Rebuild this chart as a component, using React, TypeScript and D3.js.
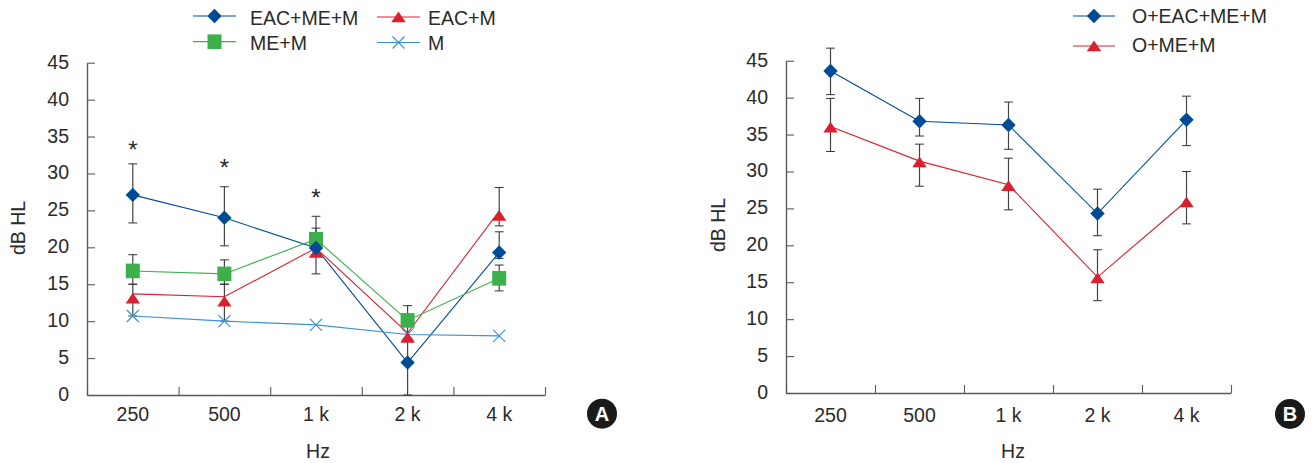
import React, { useEffect, useRef } from "react";
import * as d3 from "d3";

const categories = ["250", "500", "1 k", "2 k", "4 k"];
const yTicks = [0, 5, 10, 15, 20, 25, 30, 35, 40, 45];

// Panel A
const aFullMean = [27.1, 24.0, 19.9, 4.4, 19.3];
const aFullHi = [31.3, 28.2, 24.2, 4.4, 22.1];
const aFullLo = [23.3, 20.2, 19.9, 0, 18.5];
const aEacMean = [13.7, 13.3, 19.9, 8.4, 24.9];
const aEacHi = [15.0, 15.0, 19.0, 7.5, 28.1];
const aEacLo = [10.7, 10.0, 16.4, 4.5, 22.9];
const aMeMean = [16.8, 16.4, 21.1, 10.1, 15.8];
const aMeHi = [19.0, 18.3, 22.6, 12.1, 17.6];
const aMeLo = [15.0, 15.0, 20.0, 7.5, 14.1];
const aMMean = [10.7, 10.0, 9.5, 8.2, 8.0];

// Panel B
const bFullMean = [43.6, 36.8, 36.3, 24.3, 37.0];
const bFullHi = [46.7, 39.9, 39.4, 27.6, 40.2];
const bFullLo = [40.4, 34.8, 33.0, 21.3, 33.5];
const bMeMean = [36.1, 31.4, 28.2, 15.7, 26.0];
const bMeHi = [39.9, 33.7, 31.8, 19.4, 30.0];
const bMeLo = [32.7, 28.0, 24.8, 12.5, 22.9];

const starValues = [33.8, 31.4, 27.3];

const BLUE = "#004a96";
const RED = "#d9202e";
const GREEN = "#3db04b";
const SKY = "#3a92d4";
const INK = "#2b2a29";
const FONT = "'Liberation Sans', Arial, sans-serif";
const FS = 19.5;

type Kind = "diamond" | "triangle" | "square" | "cross";
type Series = { name: string; color: string; kind: Kind; mean: number[]; hi?: number[]; lo?: number[] };

function drawMarker(g: any, kind: Kind, color: string, x: number, y: number, triDy: number) {
  if (kind === "diamond") {
    g.append("path").attr("d", "M0,-7.2L7.2,0L0,7.2L-7.2,0Z").attr("fill", color).attr("transform", `translate(${x},${y})`);
  } else if (kind === "square") {
    g.append("rect").attr("x", x - 7).attr("y", y - 7.3).attr("width", 14).attr("height", 14.6).attr("fill", color);
  } else if (kind === "triangle") {
    g.append("path").attr("d", "M0,-5.6L7.2,5.2L-7.2,5.2Z").attr("fill", color).attr("transform", `translate(${x},${y + triDy})`);
  } else {
    g.append("path").attr("d", "M-6,-6L6,6M-6,6L6,-6").attr("stroke", color).attr("stroke-width", 1.2).attr("fill", "none").attr("transform", `translate(${x},${y})`);
  }
}

function drawPanel(svg: any, opt: {
  left: number; right: number; top: number; bottom: number; triDy: number;
  series: Series[]; yLabelX: number; yLabelY: number; hzX: number; hzY: number; catY: number;
  badge: string; badgeX: number; badgeY: number;
}) {
  const y = d3.scaleLinear().domain([0, 45]).range([opt.bottom, opt.top]);
  const band = d3.scaleBand<string>().domain(categories).range([opt.left, opt.right]);
  const edge = d3.scaleLinear().domain([0, categories.length]).range([opt.left, opt.right]);
  const cx = (i: number) => (band(categories[i]) as number) + band.bandwidth() / 2;

  const axisStyle = (g: any) => {
    g.selectAll("path.domain").attr("stroke", "#5a5a5a").attr("stroke-width", 1.4);
    g.selectAll("line").attr("stroke", "#5a5a5a").attr("stroke-width", 1.1);
    g.selectAll("text").attr("font-family", FONT).attr("font-size", FS).attr("fill", INK);
  };

  const ya = svg.append("g").attr("transform", `translate(${opt.left},0)`)
    .call(d3.axisLeft(y).tickValues(yTicks).tickSize(-8).tickSizeOuter(0).tickPadding(18));
  axisStyle(ya);
  ya.selectAll("text").attr("dy", "0.28em");

  const xa = svg.append("g").attr("transform", `translate(0,${opt.bottom})`)
    .call(d3.axisBottom(edge).tickValues(d3.range(categories.length + 1)).tickSize(-8).tickSizeOuter(0).tickFormat(() => ""));
  axisStyle(xa);

  const xl = svg.append("g").attr("transform", `translate(0,${opt.catY})`)
    .call(d3.axisBottom(band).tickSize(0).tickPadding(0));
  xl.select("path.domain").remove();
  axisStyle(xl);
  xl.selectAll("text").attr("dy", 0).attr("y", 0);

  // error bars
  const eb = svg.append("g");
  opt.series.forEach((s) => {
    if (!s.hi || !s.lo) return;
    s.mean.forEach((_, i) => {
      const x = cx(i);
      const yh = y(s.hi![i]);
      const yl = y(s.lo![i]);
      eb.append("line").attr("x1", x).attr("x2", x).attr("y1", yh).attr("y2", yl).attr("stroke", "#444").attr("stroke-width", 1.2);
      [yh, yl].forEach((v) => {
        eb.append("line").attr("x1", x - 4.4).attr("x2", x + 4.4).attr("y1", v).attr("y2", v).attr("stroke", "#333").attr("stroke-width", 1);
      });
    });
  });

  // lines
  const line = d3.line<number>().x((_, i) => cx(i)).y((d) => y(d));
  opt.series.forEach((s) => {
    svg.append("path").attr("d", line(s.mean)).attr("fill", "none").attr("stroke", s.color).attr("stroke-width", 1.1);
  });

  // markers
  const mk = svg.append("g");
  [...opt.series].reverse().forEach((s) => {
    s.mean.forEach((v, i) => drawMarker(mk, s.kind, s.color, cx(i), y(v), opt.triDy));
  });

  svg.append("text").attr("transform", `translate(${opt.yLabelX},${opt.yLabelY}) rotate(-90)`)
    .attr("text-anchor", "middle").attr("font-family", FONT).attr("font-size", FS).attr("fill", INK).text("dB HL");
  svg.append("text").attr("x", opt.hzX).attr("y", opt.hzY)
    .attr("text-anchor", "middle").attr("font-family", FONT).attr("font-size", FS).attr("fill", INK).text("Hz");

  svg.append("circle").attr("cx", opt.badgeX).attr("cy", opt.badgeY).attr("r", 15).attr("fill", "#1a1a1a");
  svg.append("text").attr("x", opt.badgeX).attr("y", opt.badgeY + 7)
    .attr("text-anchor", "middle").attr("font-family", FONT).attr("font-weight", 700).attr("font-size", 20).attr("fill", "#fff").text(opt.badge);

  return { y, cx };
}

function legendItem(svg: any, s: Series, x1: number, x2: number, yy: number, tx: number, ty: number) {
  svg.append("line").attr("x1", x1).attr("x2", x2).attr("y1", yy).attr("y2", yy).attr("stroke", s.color).attr("stroke-width", 1.2);
  drawMarker(svg, s.kind, s.color, (x1 + x2) / 2, yy, 0);
  svg.append("text").attr("x", tx).attr("y", ty).attr("font-family", FONT).attr("font-size", FS).attr("fill", INK).text(s.name);
}

export default function App() {
  const ref = useRef<SVGSVGElement>(null);
  useEffect(() => {
    const svg = d3.select(ref.current);
    svg.selectAll("*").remove();

    const sFull: Series = { name: "EAC+ME+M", color: BLUE, kind: "diamond", mean: aFullMean, hi: aFullHi, lo: aFullLo };
    const sEac: Series = { name: "EAC+M", color: RED, kind: "triangle", mean: aEacMean, hi: aEacHi, lo: aEacLo };
    const sMe: Series = { name: "ME+M", color: GREEN, kind: "square", mean: aMeMean, hi: aMeHi, lo: aMeLo };
    const sM: Series = { name: "M", color: SKY, kind: "cross", mean: aMMean };
    const bFull: Series = { name: "O+EAC+ME+M", color: BLUE, kind: "diamond", mean: bFullMean, hi: bFullHi, lo: bFullLo };
    const bMe: Series = { name: "O+ME+M", color: RED, kind: "triangle", mean: bMeMean, hi: bMeHi, lo: bMeLo };

    const a = drawPanel(svg, {
      left: 87, right: 545, top: 62.7, bottom: 395, triDy: 4.5,
      series: [sFull, sEac, sMe, sM],
      yLabelX: 25, yLabelY: 228, hzX: 318, hzY: 458, catY: 421,
      badge: "A", badgeX: 602, badgeY: 413.7,
    });
    drawPanel(svg, {
      left: 786, right: 1231, top: 60.7, bottom: 393, triDy: 1,
      series: [bFull, bMe],
      yLabelX: 725, yLabelY: 225, hzX: 1013, hzY: 458, catY: 422,
      badge: "B", badgeX: 1290, badgeY: 414,
    });

    starValues.forEach((v, i) => {
      svg.append("text").attr("x", a.cx(i)).attr("y", a.y(v) + 13)
        .attr("text-anchor", "middle").attr("font-family", FONT).attr("font-size", 24).attr("fill", INK).text("*");
    });

    legendItem(svg, sFull, 193, 236, 16, 250, 25);
    legendItem(svg, sEac, 377, 420, 17, 428, 25);
    legendItem(svg, sMe, 193, 236, 41.7, 250, 50);
    legendItem(svg, sM, 377, 420, 42.5, 428, 50);
    legendItem(svg, bFull, 1073, 1115, 16, 1132, 23.3);
    legendItem(svg, bMe, 1073, 1115, 46, 1132, 52.3);
  }, []);
  return (
    <svg ref={ref} width={1314} height={463} viewBox="0 0 1314 463"
      style={{ position: "absolute", left: 0, top: 0, background: "#fff" }} />
  );
}
